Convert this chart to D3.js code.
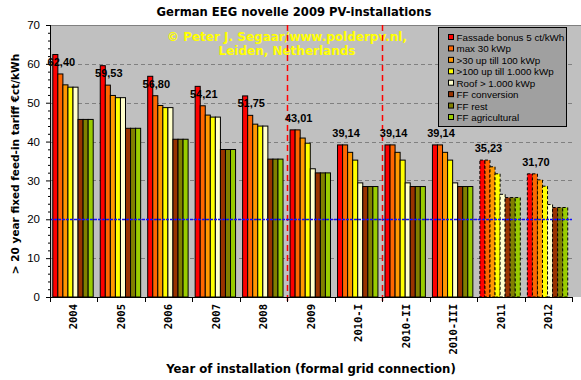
<!DOCTYPE html>
<html>
<head>
<meta charset="utf-8">
<script src="https://cdn.jsdelivr.net/npm/d3@7"></script>
<style>
  html, body { margin: 0; padding: 0; background: #ffffff; }
  svg { display: block; }
</style>
</head>
<body>
<svg id="chart" width="581" height="380"></svg>
<script>
// ---------- data ----------
const categories = ["2004","2005","2006","2007","2008","2009","2010-I","2010-II","2010-III","2011","2012"];
const seriesNames = ["Fassade bonus 5 ct/kWh","max 30 kWp",">30 up till 100 kWp",">100 up till 1.000 kWp","Roof > 1.000 kWp","FF conversion","FF rest","FF agricultural"];
const fassade = [62.40,59.53,56.80,54.21,51.75,43.01,39.14,39.14,39.14,35.23,31.70];
const max30   = [57.40,54.53,51.80,49.21,46.75,43.01,39.14,39.14,39.14,35.23,31.70];
const upto100 = [54.60,51.87,49.28,46.82,44.48,40.91,37.23,37.23,37.23,33.51,30.15];
const upto1000= [54.00,51.30,48.74,46.30,43.99,39.58,35.23,35.23,35.23,31.70,28.52];
const roof1000= [54.00,51.30,48.74,46.30,43.99,33.00,29.37,29.37,29.37,26.43,23.79];
const ffConversion  = [45.70,43.42,40.60,37.96,35.49,31.94,28.43,28.43,28.43,25.59,23.03];
const ffRest        = [45.70,43.42,40.60,37.96,35.49,31.94,28.43,28.43,28.43,25.59,23.03];
const ffAgricultural= [45.70,43.42,40.60,37.96,35.49,31.94,28.43,28.43,28.43,25.59,23.03];
const projected = ["2011","2012"];          // drawn with dashed outlines
const dividers = ["2009","2010-II"];         // red dashed lines before these categories
const referenceLine = 20;                    // blue dotted line
const yTicks = [0,10,20,30,40,50,60,70];

const seriesValues = [fassade,max30,upto100,upto1000,roof1000,ffConversion,ffRest,ffAgricultural];
const colors = ["#ff0000","#ff6600","#ff9900","#ffff00","#ffffcc","#993300","#808000","#99cc00"];

// ---------- layout ----------
const svg = d3.select("#chart");
const L = 50, R = 572, T = 25, B = 297;
const wide = "'DejaVu Sans', Verdana, sans-serif";
const arial = "'Liberation Sans', Arial, sans-serif";
const mono = "'DejaVu Sans Mono', monospace";

const x0 = d3.scaleBand().domain(categories).range([L, R]).padding(0);
const x1 = d3.scaleBand().domain(d3.range(seriesNames.length)).range([2.8, 43.2]).padding(0);
const y = d3.scaleLinear().domain([0, 70]).range([B, T]);

// plot background
svg.append("rect").attr("x", L).attr("y", T).attr("width", 581 - L).attr("height", B - T)
  .attr("fill", "#c0c0c0");
svg.append("line").attr("x1", L).attr("x2", 581).attr("y1", T + 0.5).attr("y2", T + 0.5)
  .attr("stroke", "#808080");

// gridlines
svg.append("g").selectAll("line").data(yTicks.filter(v => v > 0 && v < 70)).join("line")
  .attr("x1", L).attr("x2", R)
  .attr("y1", d => Math.round(y(d)) + 0.5).attr("y2", d => Math.round(y(d)) + 0.5)
  .attr("stroke", "#808080").attr("stroke-dasharray", "4,3");

// watermark
const wm = svg.append("g").attr("fill", "#ffff00").attr("font-weight", "bold")
  .style("font-family", wide).style("font-size", "12px").attr("text-anchor", "middle");
wm.append("text").attr("x", 287).attr("y", 41).text("© Peter J. Segaar/www.polderpv.nl,");
wm.append("text").attr("x", 287).attr("y", 55).text("Leiden, Netherlands");

// red dashed dividers
svg.append("g").selectAll("line").data(dividers).join("line")
  .attr("x1", d => Math.round(x0(d)) + 0.5).attr("x2", d => Math.round(x0(d)) + 0.5)
  .attr("y1", T).attr("y2", B + 4)
  .attr("stroke", "#ff0000").attr("stroke-width", 1.5).attr("stroke-dasharray", "6,4");

// bars
const groups = svg.append("g").selectAll("g").data(categories).join("g")
  .attr("transform", d => `translate(${x0(d)},0)`);
groups.selectAll("rect")
  .data((c, ci) => seriesValues.map((vals, si) => ({ c, si, v: vals[ci] })))
  .join("rect")
  .attr("x", d => x1(d.si))
  .attr("y", d => y(d.v))
  .attr("width", x1.bandwidth())
  .attr("height", d => B - y(d.v))
  .attr("fill", d => colors[d.si])
  .attr("stroke", "#000")
  .attr("stroke-width", 1)
  .attr("stroke-dasharray", d => projected.includes(d.c) ? "3,2" : null);

// blue reference line
svg.append("line").attr("x1", L).attr("x2", R)
  .attr("y1", Math.round(y(referenceLine)) + 0.5).attr("y2", Math.round(y(referenceLine)) + 0.5)
  .attr("stroke", "#1010ff").attr("stroke-width", 1.5).attr("stroke-dasharray", "3,1");

// value labels (Fassade value, placed above the max 30 kWp bar)
svg.append("g").selectAll("text").data(categories).join("text")
  .attr("x", (c) => x0(c) + x1(1) + x1.bandwidth() / 2 + 1)
  .attr("y", (c, i) => y(max30[i]) - 8)
  .attr("text-anchor", "middle").attr("font-weight", "bold")
  .style("font-family", arial).style("font-size", "11px")
  .attr("fill", "#000")
  .text((c, i) => d3.format(".2f")(fassade[i]).replace(".", ","));

// y axis
const yAxis = svg.append("g").attr("transform", `translate(${L},0)`)
  .call(d3.axisLeft(y).tickValues(yTicks).tickSize(4).tickPadding(6).tickFormat(d3.format("d")));
yAxis.select(".domain").remove();
yAxis.selectAll("text").style("font-size", "11.5px").style("font-family", arial).attr("fill", "#000");
yAxis.selectAll("line").attr("stroke", "#000");
const yMinor = svg.append("g").attr("transform", `translate(${L},0)`)
  .call(d3.axisLeft(y).tickValues(d3.range(0, 71, 2).filter(v => v % 10 !== 0)).tickSize(2).tickFormat(""));
yMinor.select(".domain").remove();
yMinor.selectAll("line").attr("stroke", "#000");
svg.append("line").attr("x1", L + 0.5).attr("x2", L + 0.5).attr("y1", T).attr("y2", B + 0.5).attr("stroke", "#000");

// x axis
const xAxis = svg.append("g").attr("transform", `translate(0,${B})`)
  .call(d3.axisBottom(x0).tickSize(0).tickPadding(0));
xAxis.select(".domain").remove();
xAxis.selectAll("text")
  .style("font-family", mono).attr("font-weight", "bold").style("font-size", "10.5px")
  .attr("fill", "#000")
  .attr("text-anchor", "end")
  .attr("transform", "rotate(-90)")
  .attr("x", -7).attr("y", 0).attr("dy", "0.35em");
svg.append("line").attr("x1", L).attr("x2", R).attr("y1", B + 0.5).attr("y2", B + 0.5).attr("stroke", "#000");
svg.append("g").selectAll("line").data(categories.map(c => x0(c)).concat([R])).join("line")
  .attr("x1", d => Math.round(d) + 0.5).attr("x2", d => Math.round(d) + 0.5)
  .attr("y1", B).attr("y2", B + 5).attr("stroke", "#000");

// titles
svg.append("text").attr("x", 294).attr("y", 16).attr("text-anchor", "middle")
  .style("font-family", wide).attr("font-weight", "bold").style("font-size", "11.6px").attr("fill", "#000")
  .text("German EEG novelle 2009 PV-installations");
svg.append("text").attr("x", 311).attr("y", 373).attr("text-anchor", "middle")
  .style("font-family", wide).attr("font-weight", "bold").style("font-size", "11.7px").attr("fill", "#000")
  .text("Year of installation (formal grid connection)");
svg.append("text").attr("transform", `translate(19,${(T + B) / 2 + 3}) rotate(-90)`)
  .attr("text-anchor", "middle").style("font-family", wide).attr("font-weight", "bold").style("font-size", "10.5px").attr("fill", "#000")
  .text("> 20 year fixed feed-in tariff €ct/kWh");

// legend
const lg = svg.append("g").attr("transform", "translate(438,27)");
lg.append("rect").attr("x", 0.5).attr("y", 0.5).attr("width", 128).attr("height", 99)
  .attr("fill", "#a0a0a0").attr("stroke", "#000");
const items = lg.selectAll("g").data(seriesNames).join("g")
  .attr("transform", (d, i) => `translate(0,${10.5 + i * 11.43})`);
items.append("rect").attr("x", 10.5).attr("y", -3).attr("width", 5).attr("height", 5)
  .attr("fill", (d, i) => colors[i]).attr("stroke", "#000");
items.append("text").attr("x", 18.5).attr("y", 3.5).style("font-family", arial).style("font-size", "9.8px").attr("fill", "#000")
  .text(d => d);
</script>
</body>
</html>
